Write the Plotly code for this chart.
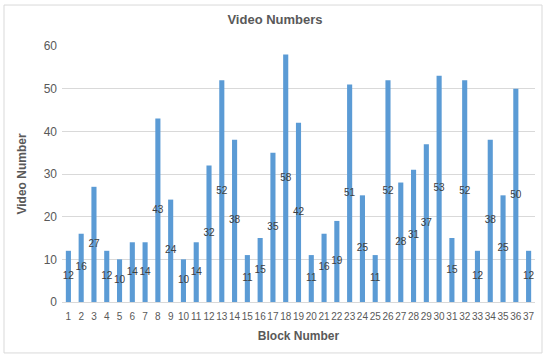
import plotly.graph_objects as go

blocks = [str(i) for i in range(1, 38)]
video_numbers = [12, 16, 27, 12, 10, 14, 14, 43, 24, 10, 14, 32, 52, 38, 11, 15, 35, 58, 42, 11,
                 16, 19, 51, 25, 11, 52, 28, 31, 37, 53, 15, 52, 12, 38, 25, 50, 12]
y_ticks = [0, 10, 20, 30, 40, 50, 60]

font_family = "Liberation Sans, Arial, sans-serif"

fig = go.Figure()
fig.add_trace(go.Bar(
    x=blocks, y=video_numbers,
    marker=dict(color="#5B9BD5", line=dict(width=0)),
    hoverinfo="x+y",
))
fig.add_trace(go.Scatter(
    x=blocks, y=[v / 2 for v in video_numbers],
    mode="text", text=[str(v) for v in video_numbers],
    textposition="middle center",
    textfont=dict(family=font_family, size=10, color="#404040"),
    hoverinfo="skip",
))

fig.update_layout(
    width=550, height=359,
    margin=dict(l=62, r=15, t=46, b=57, autoexpand=False),
    paper_bgcolor="white", plot_bgcolor="white",
    showlegend=False,
    bargap=0.6,
    title=dict(text="<b>Video Numbers</b>", x=0.5, xanchor="center", y=0.947, yanchor="middle",
               font=dict(family=font_family, size=13, color="#595959")),
    font=dict(family=font_family, color="#595959"),
    xaxis=dict(
        type="category",
        range=[-0.5, len(blocks) - 0.5],
        tickmode="array", tickvals=blocks, ticktext=blocks, tickangle=0,
        ticklabelstandoff=5,
        showgrid=False, automargin=False,
        showline=True, linecolor="#d9d9d9", linewidth=1,
        ticks="", tickfont=dict(size=10, color="#595959"),
        title=dict(text="<b>Block Number</b>", font=dict(size=12, color="#595959"), standoff=10),
    ),
    yaxis=dict(
        range=[0, 60], automargin=False,
        tickvals=y_ticks,
        showgrid=True, gridcolor="#d9d9d9", gridwidth=1,
        zeroline=False, showline=False,
        ticks="", tickfont=dict(size=12, color="#595959"),
        ticklabelstandoff=4,
        title=dict(text="<b>Video Number</b>", font=dict(size=12, color="#595959"), standoff=14),
    ),
    shapes=[dict(type="rect", xref="paper", yref="paper",
                 x0=-0.1226, x1=1.0148, y0=-0.199, y1=1.160,
                 line=dict(color="#d9d9d9", width=1))],
)

fig.write_html("out.html", config={"displayModeBar": False},
               post_script="document.body.style.margin='0';document.body.style.overflow='hidden';")
